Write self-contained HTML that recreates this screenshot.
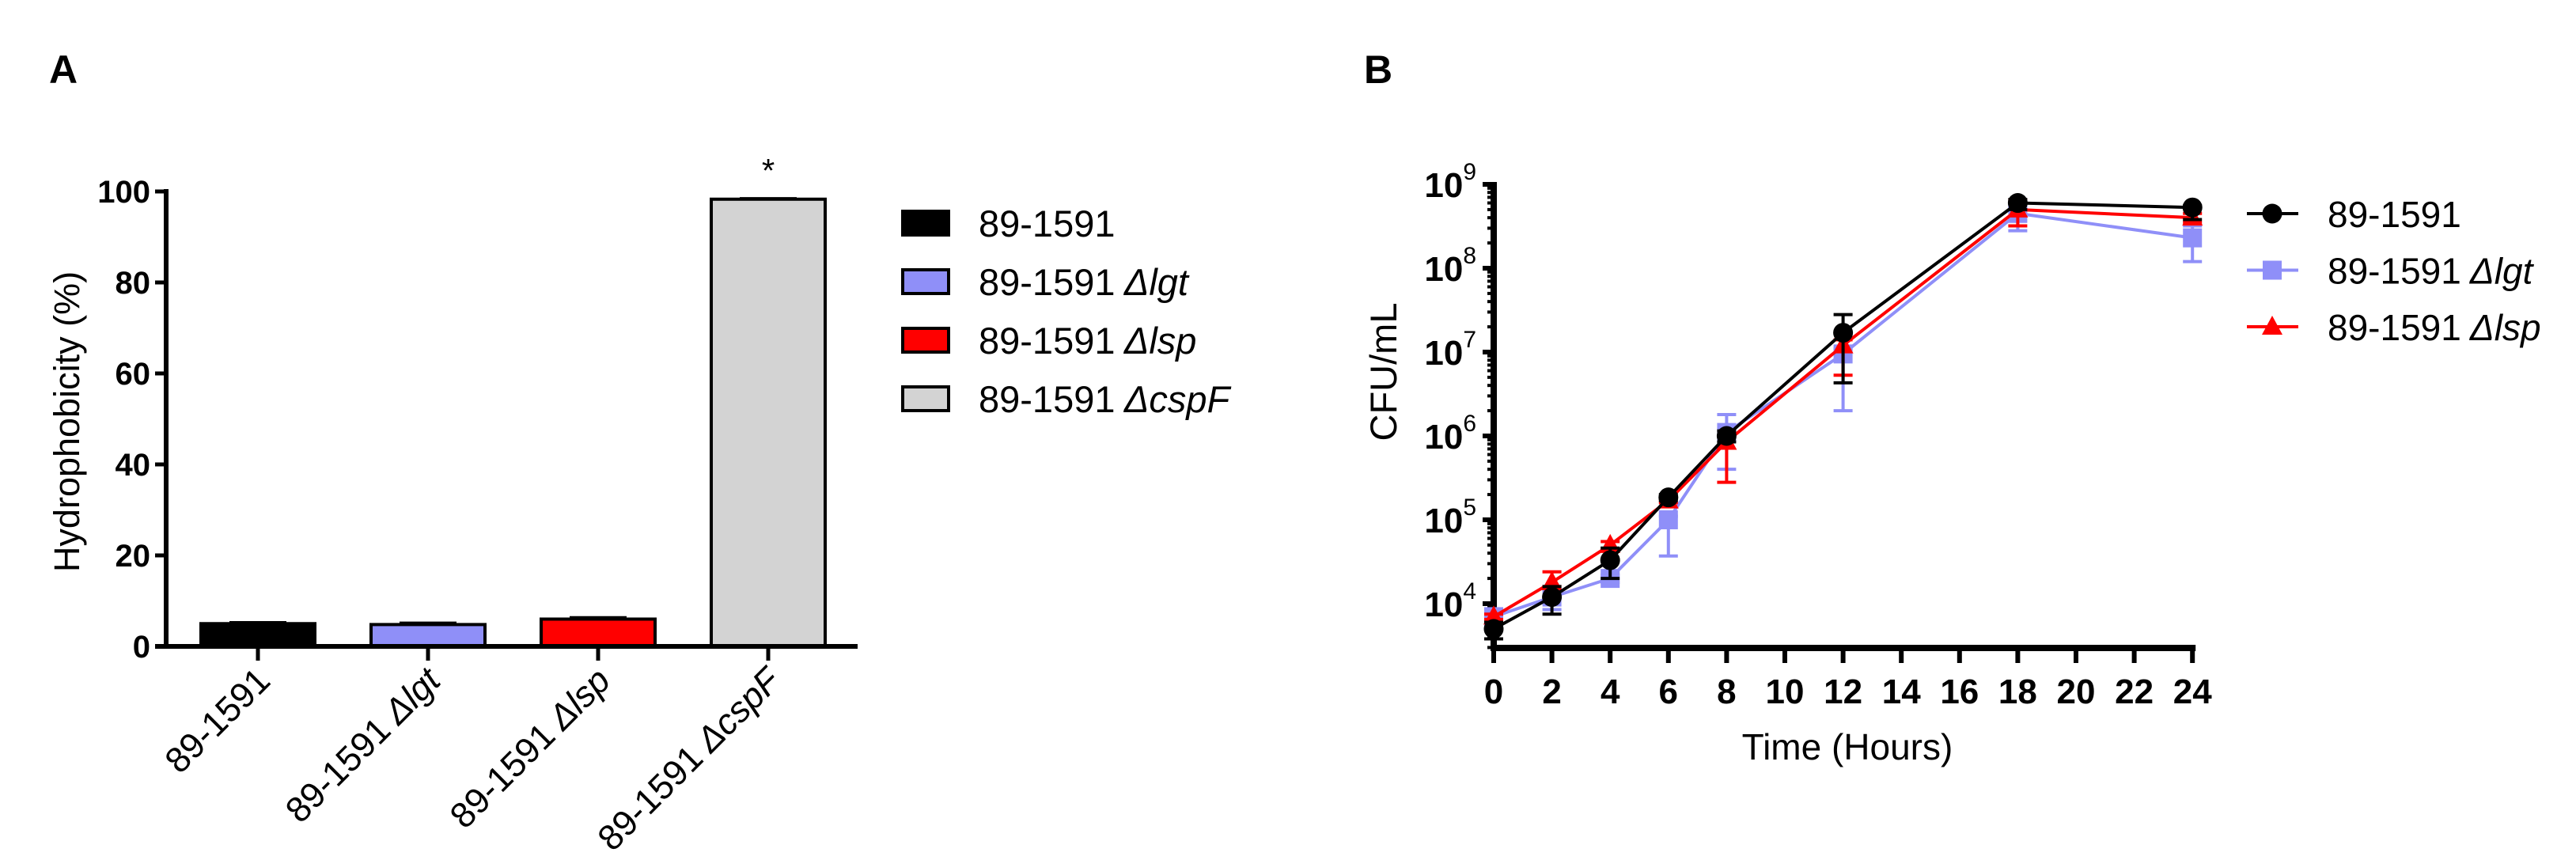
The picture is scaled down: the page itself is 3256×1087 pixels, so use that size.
<!DOCTYPE html>
<html><head><meta charset="utf-8"><style>
html,body{margin:0;padding:0;background:#fff;}
svg{display:block;font-family:"Liberation Sans",Arial,sans-serif;}
</style></head><body>
<svg id="fig" width="3256" height="1087" viewBox="0 0 3256 1087">
<g id="panelA"></g>
<g id="panelB"></g>
</svg>
<script>
// ---- Panel A data ----
const barCategories = ["89-1591", "89-1591 Δlgt", "89-1591 Δlsp", "89-1591 ΔcspF"];
const barValues = [5.0, 4.8, 6.0, 98.3];
const barErrors = [0.3, 0.4, 0.4, 0.2];
const barTicks = [0, 20, 40, 60, 80, 100];
// ---- Panel B data ----
const timePoints = [0, 2, 4, 6, 8, 12, 18, 24];
const wtValues = [5.0e3, 1.2e4, 3.3e4, 1.85e5, 1.0e6, 1.7e7, 6.0e8, 5.3e8];
const wtLow = [3.8e3, 7.5e3, 2.0e4, 1.7e5, 8.5e5, 4.3e6, 5.0e8, 3.8e8];
const wtHigh = [6.0e3, 1.6e4, 4.6e4, 2.0e5, 1.15e6, 2.8e7, 6.6e8, 5.6e8];
const lgtValues = [7.0e3, 1.2e4, 2.0e4, 1.0e5, 1.1e6, 9.5e6, 4.5e8, 2.3e8];
const lgtLow = [6.0e3, 8.5e3, 1.8e4, 3.7e4, 4.0e5, 2.0e6, 2.8e8, 1.2e8];
const lgtHigh = [8.0e3, 1.5e4, 2.2e4, 1.1e5, 1.8e6, 1.1e7, 5.5e8, 3.2e8];
const lspValues = [7.0e3, 1.8e4, 5.0e4, 1.7e5, 8.5e5, 1.2e7, 5.0e8, 4.0e8];
const lspLow = [6.5e3, 1.6e4, 4.5e4, 1.6e5, 2.8e5, 5.3e6, 3.2e8, 3.5e8];
const lspHigh = [7.5e3, 2.4e4, 5.5e4, 1.8e5, 1.0e6, 1.4e7, 6.5e8, 4.5e8];
const timeTicks = [0, 2, 4, 6, 8, 10, 12, 14, 16, 18, 20, 22, 24];
const logTicks = [4, 5, 6, 7, 8, 9];

const NS = "http://www.w3.org/2000/svg";
function mk(parent, tag, attrs, text) {
  const e = document.createElementNS(NS, tag);
  for (const k in attrs) e.setAttribute(k, attrs[k]);
  if (text !== undefined) e.textContent = text;
  parent.appendChild(e);
  return e;
}
function addLabel(parent, x, y, prefix, ital, attrs) {
  const t = mk(parent, "text", Object.assign({x: x, y: y}, attrs));
  mk(t, "tspan", {}, prefix);
  if (ital) mk(t, "tspan", {"font-style": "italic"}, " " + ital);
  return t;
}
function splitCat(c) {
  const i = c.indexOf(" ");
  return i < 0 ? [c, ""] : [c.slice(0, i), c.slice(i + 1)];
}

// ===== Panel A =====
const A = document.getElementById("panelA");
const ax0 = 210, ay0 = 817, ay100 = 242, step = 215, firstC = 326, barW = 144;
const yA = v => ay0 - (v / 100) * (ay0 - ay100);
const xA = i => firstC + i * step;
const barFills = ["#000000", "#8f8ff8", "#ff0000", "#d3d3d3"];

const lblA = mk(A, "text", {x: 62, y: 105, "font-size": 50, "font-weight": "bold"}, "A");



barValues.forEach((v, i) => {
  const g = mk(A, "g", {});
  
  
  mk(g, "rect", {x: xA(i) - barW / 2, y: yA(v), width: barW, height: ay0 - yA(v), fill: barFills[i], stroke: "#000", "stroke-width": 4});
  mk(g, "line", {x1: xA(i) - barW / 4, x2: xA(i) + barW / 4, y1: yA(v + barErrors[i]), y2: yA(v + barErrors[i]), stroke: "#000", "stroke-width": 3});
});
const star = mk(A, "text", {x: xA(3), y: 230, "font-size": 42, "text-anchor": "middle"}, "*");



const axA = mk(A, "g", {});


mk(axA, "line", {x1: ax0, x2: ax0, y1: ay100 - 3, y2: ay0 + 3, stroke: "#000", "stroke-width": 6});
barTicks.forEach(t => {
  mk(axA, "line", {x1: ax0 - 14, x2: ax0, y1: yA(t), y2: yA(t), stroke: "#000", "stroke-width": 5});
  const tl = mk(axA, "text", {x: ax0 - 20, y: yA(t) + 14, "font-size": 40, "font-weight": "bold", "text-anchor": "end"}, String(t));
  
  
});
const xaxA = mk(A, "g", {});


mk(xaxA, "line", {x1: ax0 - 14, x2: 1084, y1: ay0, y2: ay0, stroke: "#000", "stroke-width": 6});
barCategories.forEach((c, i) => {
  mk(xaxA, "line", {x1: xA(i), x2: xA(i), y1: ay0, y2: ay0 + 18, stroke: "#000", "stroke-width": 5});
  const p = splitCat(c);
  const tl = addLabel(xaxA, 0, 0, p[0], p[1], {"font-size": 45, "text-anchor": "end", transform: "translate(" + (xA(i) + 18) + "," + (ay0 + 46) + ") rotate(-45)"});
  
  
});
const ytA = mk(A, "text", {x: 0, y: 0, "font-size": 45, "text-anchor": "middle", transform: "translate(100,533) rotate(-90)"}, "Hydrophobicity (%)");



const legA = mk(A, "g", {});


barCategories.forEach((c, i) => {
  const cy = 282 + i * 74;
  const g = mk(legA, "g", {});
  
  
  mk(g, "rect", {x: 1141, y: cy - 15, width: 58, height: 30, fill: barFills[i], stroke: "#000", "stroke-width": 4});
  const p = splitCat(c);
  addLabel(g, 1237, cy + 17, p[0], p[1], {"font-size": 47});
});

// ===== Panel B =====
const B = document.getElementById("panelB");
const bx0 = 1888, hrPx = 36.8, by4 = 763, dec = 106, byAxis = 819;
const xB = t => bx0 + t * hrPx;
const yB = v => by4 - (Math.log10(v) - 4) * dec;

const lblB = mk(B, "text", {x: 1724, y: 105, "font-size": 50, "font-weight": "bold"}, "B");



const yaxB = mk(B, "g", {});


mk(yaxB, "line", {x1: bx0, x2: bx0, y1: yB(1e9) - 3, y2: byAxis, stroke: "#000", "stroke-width": 8});
for (let d = 3; d <= 8; d++) {
  for (let m = 2; m <= 9; m++) {
    const y = yB(m * Math.pow(10, d));
    if (y > byAxis || y < yB(1e9)) continue;
    mk(yaxB, "line", {x1: bx0 - 8, x2: bx0, y1: y, y2: y, stroke: "#000", "stroke-width": 4});
  }
}
logTicks.forEach(e => {
  const y = yB(Math.pow(10, e));
  mk(yaxB, "line", {x1: bx0 - 14, x2: bx0, y1: y, y2: y, stroke: "#000", "stroke-width": 6});
  const t = mk(yaxB, "text", {x: bx0 - 22, y: y + 16, "font-size": 44, "font-weight": "bold", "text-anchor": "end"});
  
  
  mk(t, "tspan", {}, "10");
  mk(t, "tspan", {"font-size": 30, "font-weight": "normal", dy: -22}, String(e));
});
const xaxB = mk(B, "g", {});


mk(xaxB, "line", {x1: bx0 - 4, x2: xB(24) + 4, y1: byAxis, y2: byAxis, stroke: "#000", "stroke-width": 8});
timeTicks.forEach(t => {
  mk(xaxB, "line", {x1: xB(t), x2: xB(t), y1: byAxis, y2: byAxis + 19, stroke: "#000", "stroke-width": 6});
  const tl = mk(xaxB, "text", {x: xB(t), y: byAxis + 70, "font-size": 44, "font-weight": "bold", "text-anchor": "middle"}, String(t));
  
  
});
const xtB = mk(B, "text", {x: 2335, y: 960, "font-size": 46, "text-anchor": "middle"}, "Time (Hours)");


const ytB = mk(B, "text", {x: 0, y: 0, "font-size": 47, "text-anchor": "middle", transform: "translate(1765,470) rotate(-90)"}, "CFU/mL");



function marker(g, shape, x, y, color) {
  if (shape === "circle") mk(g, "circle", {cx: x, cy: y, r: 12.5, fill: color});
  else if (shape === "square") mk(g, "rect", {x: x - 12, y: y - 12, width: 24, height: 24, fill: color});
  else mk(g, "polygon", {points: (x) + "," + (y - 14) + " " + (x - 13) + "," + (y + 10) + " " + (x + 13) + "," + (y + 10), fill: color});
}
const seriesList = [
  {name: "lgt", vals: lgtValues, lo: lgtLow, hi: lgtHigh, color: "#8f8ff8", shape: "square", label: ["89-1591", "Δlgt"]},
  {name: "lsp", vals: lspValues, lo: lspLow, hi: lspHigh, color: "#ff0000", shape: "triangle", label: ["89-1591", "Δlsp"]},
  {name: "wt", vals: wtValues, lo: wtLow, hi: wtHigh, color: "#000000", shape: "circle", label: ["89-1591", ""]}
];
seriesList.forEach(s => {
  const g = mk(B, "g", {});
  
  
  timePoints.forEach((t, i) => {
    const x = xB(t);
    mk(g, "line", {x1: x, x2: x, y1: yB(s.lo[i]), y2: yB(s.hi[i]), stroke: s.color, "stroke-width": 4});
    mk(g, "line", {x1: x - 12, x2: x + 12, y1: yB(s.lo[i]), y2: yB(s.lo[i]), stroke: s.color, "stroke-width": 4});
    mk(g, "line", {x1: x - 12, x2: x + 12, y1: yB(s.hi[i]), y2: yB(s.hi[i]), stroke: s.color, "stroke-width": 4});
  });
  mk(g, "polyline", {points: timePoints.map((t, i) => xB(t) + "," + yB(s.vals[i])).join(" "), fill: "none", stroke: s.color, "stroke-width": 4});
  timePoints.forEach((t, i) => marker(g, s.shape, xB(t), yB(s.vals[i]), s.color));
});

const legB = mk(B, "g", {});


[seriesList[2], seriesList[0], seriesList[1]].forEach((s, i) => {
  const cy = 270 + i * 71.5;
  const g = mk(legB, "g", {});
  
  
  mk(g, "line", {x1: 2840, x2: 2905, y1: cy, y2: cy, stroke: s.color, "stroke-width": 4});
  marker(g, s.shape, 2872, cy, s.color);
  addLabel(g, 2942, cy + 17, s.label[0], s.label[1], {"font-size": 46});
});
</script>
</body></html>
